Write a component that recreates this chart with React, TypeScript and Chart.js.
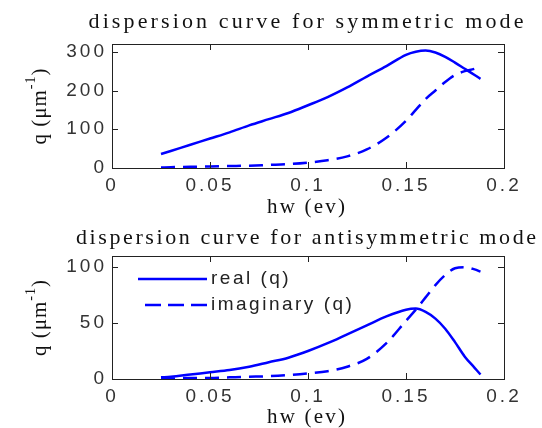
import React, { useEffect, useRef } from "react";
import { Chart, registerables } from "chart.js";

Chart.register(...registerables);

// ---------- data ----------
const hw = [0.025, 0.03, 0.04, 0.05, 0.06, 0.07, 0.08, 0.09, 0.1, 0.11, 0.12, 0.13, 0.14, 0.15, 0.155, 0.16, 0.165, 0.17, 0.175, 0.18, 0.185, 0.188];

const symReal = [36, 44, 60, 76, 92, 110, 126, 142, 162, 183, 208, 236, 263, 292, 300, 303, 298, 287, 272, 256, 240, 230];
const symImag = [1, 2, 3, 4, 5, 6, 8, 10, 14, 20, 30, 48, 78, 122, 150, 178, 200, 222, 240, 250, 256, 262];

const antiReal = [1.5, 2, 4, 6, 8, 11, 15, 19, 25, 32, 40, 48, 56, 62, 63, 60, 54, 45, 33, 20, 10, 4];
const antiImag = [0.5, 0.5, 1, 1, 1.5, 2, 2.5, 3.5, 5, 7, 11, 18, 32, 52, 62, 73, 84, 93, 99, 100, 98, 96];

const xTicks = [0, 0.05, 0.1, 0.15, 0.2];
const xTickLabels = ["0", "0.05", "0.1", "0.15", "0.2"];
const symYTicks = [0, 100, 200, 300];
const antiYTicks = [0, 50, 100];

const symTitle = "dispersion curve for symmetric mode";
const antiTitle = "dispersion curve for antisymmetric mode";
const xTitle = "hw (ev)";
const legendLabels = ["real (q)", "imaginary (q)"];

// ---------- styling ----------
const W = 542;
const BLUE = "#0000ff";
const SANS = '"Liberation Sans", Arial, sans-serif';
const SERIF = '"Liberation Serif", "Times New Roman", serif';

type PanelCfg = {
  canvasTop: number;
  canvasH: number;
  title: string;
  titleWidth: number;
  titleY: number;
  xTitleY: number;
  plotTop: number;
  plotBottom: number;
  yMax: number;
  yTicks: number[];
  real: number[];
  imag: number[];
  legend: boolean;
};

function drawSpacedText(ctx: CanvasRenderingContext2D, text: string, cx: number, cy: number, font: string, targetWidth: number) {
  ctx.save();
  ctx.font = font;
  (ctx as any).letterSpacing = "0px";
  const w = ctx.measureText(text).width;
  const n = text.length;
  const sp = Math.max(0, (targetWidth - w) / (n - 1));
  (ctx as any).letterSpacing = sp + "px";
  ctx.textAlign = "left";
  ctx.textBaseline = "middle";
  ctx.fillStyle = "#111";
  ctx.fillText(text, cx - (w + sp * (n - 1)) / 2, cy);
  ctx.restore();
}

function makeDecor(cfg: PanelCfg) {
  return {
    id: "matlabDecor",
    beforeDraw(chart: any) {
      (chart.ctx as any).letterSpacing = "3px";
    },
    afterDraw(chart: any) {
      const ctx: CanvasRenderingContext2D = chart.ctx;
      const { left, right, top, bottom } = chart.chartArea;
      const xs = chart.scales.x;
      const ys = chart.scales.y;
      ctx.save();
      (ctx as any).letterSpacing = "0px";
      // box
      ctx.strokeStyle = "#222";
      ctx.lineWidth = 1;
      ctx.setLineDash([]);
      ctx.strokeRect(Math.round(left) + 0.5, Math.round(top) + 0.5, Math.round(right - left), Math.round(bottom - top));
      // inward ticks
      const tl = 6;
      ctx.beginPath();
      xTicks.forEach((v) => {
        const px = Math.round(xs.getPixelForValue(v)) + 0.5;
        ctx.moveTo(px, bottom);
        ctx.lineTo(px, bottom - tl);
        ctx.moveTo(px, top);
        ctx.lineTo(px, top + tl);
      });
      cfg.yTicks.forEach((v) => {
        const py = Math.round(ys.getPixelForValue(v)) + 0.5;
        ctx.moveTo(left, py);
        ctx.lineTo(left + tl, py);
        ctx.moveTo(right, py);
        ctx.lineTo(right - tl, py);
      });
      ctx.stroke();
      ctx.restore();

      const cx = (left + right) / 2 - 2;
      // plot title
      drawSpacedText(ctx, cfg.title, cx, cfg.titleY, `22px ${SERIF}`, cfg.titleWidth);
      // x title
      drawSpacedText(ctx, xTitle, cx, cfg.xTitleY, `21px ${SERIF}`, 78);

      // y title with superscript
      ctx.save();
      ctx.translate(39, (top + bottom) / 2);
      ctx.rotate(-Math.PI / 2);
      ctx.fillStyle = "#111";
      (ctx as any).letterSpacing = "1px";
      const fMain = `21px ${SERIF}`;
      const fSup = `14px ${SERIF}`;
      ctx.font = fMain;
      const main = "q (\u03bcm";
      const w1 = ctx.measureText(main).width;
      const w3 = ctx.measureText(")").width;
      ctx.font = fSup;
      const w2 = ctx.measureText("-1").width;
      let x0 = -(w1 + w2 + w3) / 2;
      ctx.textAlign = "left";
      ctx.textBaseline = "alphabetic";
      const base = 7;
      ctx.font = fMain;
      ctx.fillText(main, x0, base);
      x0 += w1;
      ctx.font = fSup;
      ctx.fillText("-1", x0, base - 11);
      x0 += w2;
      ctx.font = fMain;
      ctx.fillText(")", x0, base);
      ctx.restore();

      // legend
      if (cfg.legend) {
        ctx.save();
        const lx0 = left + 26;
        const lx1 = left + 95;
        const rows = [top + 23, top + 49];
        ctx.strokeStyle = BLUE;
        ctx.lineWidth = 2.5;
        ctx.setLineDash([]);
        ctx.beginPath();
        ctx.moveTo(lx0, rows[0]);
        ctx.lineTo(lx1, rows[0]);
        ctx.stroke();
        ctx.setLineDash([16, 7]);
        ctx.lineDashOffset = 16;
        ctx.beginPath();
        ctx.moveTo(lx0, rows[1]);
        ctx.lineTo(lx1, rows[1]);
        ctx.stroke();
        ctx.setLineDash([]);
        ctx.font = `19px ${SANS}`;
        (ctx as any).letterSpacing = "2.5px";
        ctx.fillStyle = "#222";
        ctx.textAlign = "left";
        ctx.textBaseline = "middle";
        ctx.fillText(legendLabels[0], lx1 + 4, rows[0]);
        ctx.fillText(legendLabels[1], lx1 + 4, rows[1]);
        ctx.restore();
      }
    },
  };
}

function Panel({ cfg }: { cfg: PanelCfg }) {
  const ref = useRef<HTMLCanvasElement | null>(null);
  useEffect(() => {
    if (!ref.current) return;
    const toPts = (ys: number[]) => hw.map((x, i) => ({ x, y: ys[i] }));
    const chart = new Chart(ref.current, {
      type: "line",
      data: {
        datasets: [
          {
            label: legendLabels[0],
            data: toPts(cfg.real),
            borderColor: BLUE,
            borderWidth: 2.5,
            pointRadius: 0,
            cubicInterpolationMode: "monotone",
            fill: false,
          },
          {
            label: legendLabels[1],
            data: toPts(cfg.imag),
            borderColor: BLUE,
            borderWidth: 2.5,
            borderDash: [14, 8],
            pointRadius: 0,
            cubicInterpolationMode: "monotone",
            fill: false,
          },
        ],
      },
      options: {
        animation: false,
        responsive: false,
        devicePixelRatio: 1,
        layout: { padding: { left: 0, right: 38, top: cfg.plotTop, bottom: 0 } },
        plugins: {
          legend: { display: false },
          title: { display: false },
          tooltip: { enabled: false },
        },
        scales: {
          x: {
            type: "linear",
            min: 0,
            max: 0.2,
            grid: { display: false, drawTicks: false },
            border: { display: false },
            afterBuildTicks: (s: any) => {
              s.ticks = xTicks.map((v) => ({ value: v }));
            },
            afterFit: (s: any) => {
              s.height = cfg.canvasH - cfg.plotBottom;
            },
            ticks: {
              autoSkip: false,
              maxRotation: 0,
              padding: 6,
              color: "#333",
              font: { family: SANS, size: 19 },
              callback: (_v: any, i: number) => xTickLabels[i],
            },
          },
          y: {
            type: "linear",
            min: 0,
            max: cfg.yMax,
            grid: { display: false, drawTicks: false },
            border: { display: false },
            afterBuildTicks: (s: any) => {
              s.ticks = cfg.yTicks.map((v) => ({ value: v }));
            },
            afterFit: (s: any) => {
              s.width = 112;
            },
            ticks: {
              autoSkip: false,
              padding: 5,
              color: "#333",
              font: { family: SANS, size: 19 },
              callback: (v: any) => String(v),
            },
          },
        },
      },
      plugins: [makeDecor(cfg) as any],
    });
    return () => chart.destroy();
  }, [cfg]);
  return (
    <canvas
      ref={ref}
      width={W}
      height={cfg.canvasH}
      style={{ display: "block", position: "absolute", left: 0, top: cfg.canvasTop, width: W, height: cfg.canvasH }}
    />
  );
}

const symCfg: PanelCfg = {
  canvasTop: 0,
  canvasH: 224,
  title: symTitle,
  titleWidth: 435,
  titleY: 22,
  xTitleY: 207,
  plotTop: 44,
  plotBottom: 168,
  yMax: 320,
  yTicks: symYTicks,
  real: symReal,
  imag: symImag,
  legend: false,
};

const antiCfg: PanelCfg = {
  canvasTop: 214,
  canvasH: 214,
  title: antiTitle,
  titleWidth: 460,
  titleY: 24,
  xTitleY: 203,
  plotTop: 42,
  plotBottom: 165,
  yMax: 110,
  yTicks: antiYTicks,
  real: antiReal,
  imag: antiImag,
  legend: true,
};

export default function App() {
  return (
    <div style={{ position: "absolute", left: 0, top: 0, width: W, height: 428, background: "#fff", overflow: "hidden" }}>
      <Panel cfg={symCfg} />
      <Panel cfg={antiCfg} />
    </div>
  );
}
